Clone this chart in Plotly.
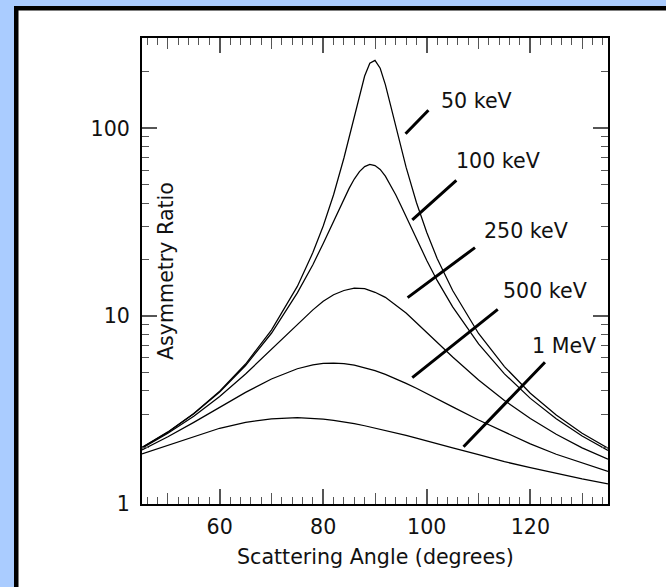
import plotly.graph_objects as go

# ---------------- data ----------------
angle_fine = [45, 50, 55, 60, 65, 70, 75, 78, 80, 82, 84, 85, 86, 87, 88, 89, 90,
              91, 92, 93, 94, 95, 96, 98, 100, 102, 105, 110, 115, 120, 125, 130, 135]
ratio_50keV = [2.00, 2.42, 3.03, 3.99, 5.56, 8.43, 14.4, 21.8, 30.2, 44.3, 69.5, 89.1, 116, 150, 190, 222, 230,
               209, 171, 133, 102, 79.0, 62.1, 40.3, 27.9, 20.3, 13.7, 8.09, 5.39, 3.89, 2.98, 2.38, 1.98]
ratio_100keV = [2.00, 2.41, 3.02, 3.95, 5.46, 8.11, 13.3, 18.8, 24.4, 32.1, 42.2, 47.9, 53.7, 58.8, 62.6, 64.2, 63.4,
                60.4, 55.7, 50.1, 44.3, 38.8, 33.8, 25.7, 19.8, 15.5, 11.2, 7.12, 4.93, 3.65, 2.84, 2.30, 1.93]

angle_coarse = [45, 50, 55, 60, 65, 70, 75, 78, 80, 82, 84, 86, 88, 90, 92, 94, 96, 98,
                100, 102, 105, 110, 115, 120, 125, 130, 135]
ratio_250keV = [1.98, 2.38, 2.93, 3.74, 4.92, 6.66, 9.10, 10.8, 12.0, 13.0, 13.7, 14.1, 14.0, 13.4, 12.6, 11.5, 10.4, 9.23,
                8.19, 7.25, 6.06, 4.57, 3.56, 2.85, 2.35, 1.99, 1.73]
ratio_500keV = [1.94, 2.28, 2.72, 3.27, 3.93, 4.63, 5.25, 5.50, 5.60, 5.63, 5.59, 5.49, 5.33, 5.13, 4.90, 4.65, 4.39, 4.13,
                3.88, 3.63, 3.29, 2.80, 2.41, 2.09, 1.84, 1.65, 1.49]
ratio_1MeV = [1.85, 2.05, 2.29, 2.53, 2.72, 2.84, 2.88, 2.86, 2.83, 2.79, 2.74, 2.68, 2.61, 2.54, 2.47, 2.40, 2.32, 2.24,
              2.17, 2.10, 1.99, 1.83, 1.68, 1.56, 1.45, 1.36, 1.28]

series = [
    (angle_fine, ratio_50keV),
    (angle_fine, ratio_100keV),
    (angle_coarse, ratio_250keV),
    (angle_coarse, ratio_500keV),
    (angle_coarse, ratio_1MeV),
]

# curve labels: text, text anchor (angle, log10 ratio), leader line (lower end, upper end)
label_text = ["50 keV", "100 keV", "250 keV", "500 keV", "1 MeV"]
label_x = [102.3, 105.2, 110.6, 114.4, 119.9]
label_logy = [2.143, 1.827, 1.451, 1.136, 0.843]
leader_x0 = [95.9, 97.2, 96.3, 97.2, 107.1]
leader_logy0 = [1.971, 1.513, 1.099, 0.673, 0.305]
leader_x1 = [100.6, 106.0, 109.6, 114.0, 123.1]
leader_logy1 = [2.104, 1.730, 1.371, 1.043, 0.763]

x_major = [60, 80, 100, 120]
x_medium = [50, 70, 90, 110, 130]
y_major = [1, 10, 100]
y_minor = [2, 3, 4, 5, 6, 7, 8, 9, 20, 30, 40, 50, 60, 70, 80, 90, 200]

# ---------------- layout constants ----------------
W, H = 666, 587
L, R, T, B = 142, 58, 38, 83
PW, PH = W - L - R, H - T - B
FONT = "DejaVu Sans"
FS = 20.6
TXT = "#111111"
TICKC = "#555555"
BLUE = "#aaccff"
XRANGE = [45, 135]
YRANGE = [0, 2.481]


def px2paper_x(px):
    return (px - L) / PW


def px2paper_y(py):
    return (H - B - py) / PH


def px_rect(x0, y0, x1, y1, color):
    return dict(type="rect", xref="paper", yref="paper",
                x0=px2paper_x(x0), x1=px2paper_x(x1),
                y0=px2paper_y(y1), y1=px2paper_y(y0),
                line=dict(width=0), fillcolor=color, layer="below")


fig = go.Figure()
for xs, ys in series:
    fig.add_trace(go.Scatter(x=xs, y=ys, mode="lines",
                             line=dict(color="black", width=1.25),
                             showlegend=False, hoverinfo="skip"))
# empty traces that activate the overlay axes carrying extra tick marks
for xa, ya in [("x2", "y"), ("x3", "y"), ("x4", "y"), ("x", "y2")]:
    fig.add_trace(go.Scatter(x=[None], y=[None], xaxis=xa, yaxis=ya,
                             showlegend=False, hoverinfo="skip"))

annotations = []
for t, x, ly in zip(label_text, label_x, label_logy):
    annotations.append(dict(x=x, y=ly, xref="x", yref="y", text=t, showarrow=False,
                            xanchor="left", yanchor="middle",
                            font=dict(family=FONT, size=FS, color=TXT)))
for x0, y0, x1, y1 in zip(leader_x0, leader_logy0, leader_x1, leader_logy1):
    annotations.append(dict(x=x0, y=y0, ax=x1, ay=y1, xref="x", yref="y", axref="x", ayref="y",
                            text="", showarrow=True, arrowhead=0, arrowwidth=3,
                            arrowcolor="black", standoff=0, startstandoff=0))
annotations.append(dict(x=px2paper_x(166), y=0.5, xref="paper", yref="paper",
                        text="Asymmetry Ratio", textangle=-90, showarrow=False,
                        xanchor="center", yanchor="middle",
                        font=dict(family=FONT, size=FS, color=TXT)))
annotations.append(dict(x=0.5, y=px2paper_y(557), xref="paper", yref="paper",
                        text="Scattering Angle (degrees)", showarrow=False,
                        xanchor="center", yanchor="middle",
                        font=dict(family=FONT, size=FS, color=TXT)))

# light-blue surround and black frame (only the left and top edges are visible)
frame_shapes = [
    px_rect(0, 0, 14, H, BLUE),
    px_rect(0, 0, W, 6, BLUE),
    px_rect(14, 6, 18.5, H, "black"),
    px_rect(14, 6, W, 10.5, "black"),
]

minor_x = dict(tickmode="linear", tick0=0, dtick=2, ticks="inside",
               ticklen=7, tickwidth=1, tickcolor=TICKC)
minor_y = dict(tickmode="array", tickvals=y_minor, ticks="inside",
               ticklen=7, tickwidth=1, tickcolor=TICKC)
common = dict(showgrid=False, zeroline=False)

fig.update_layout(
    width=W, height=H,
    margin=dict(l=L, r=R, t=T, b=B, pad=0),
    paper_bgcolor="white",
    plot_bgcolor="white",
    shapes=frame_shapes,
    annotations=annotations,
    font=dict(family=FONT, size=FS, color=TXT),
    xaxis=dict(range=XRANGE, tickmode="array", tickvals=x_major,
               ticktext=[str(v) for v in x_major],
               ticks="inside", ticklen=15, tickwidth=1.5, tickcolor=TICKC,
               minor=minor_x, ticklabelstandoff=3,
               showline=True, linecolor="black", linewidth=2, mirror=True,
               tickfont=dict(family=FONT, size=FS, color=TXT), **common),
    xaxis2=dict(range=XRANGE, overlaying="x", anchor="y", side="bottom",
                tickmode="array", tickvals=x_medium, showticklabels=False,
                ticks="inside", ticklen=11, tickwidth=1.2, tickcolor=TICKC,
                showline=False, **common),
    xaxis3=dict(range=XRANGE, overlaying="x", anchor="y", side="top",
                tickmode="array", tickvals=x_major, showticklabels=False,
                ticks="inside", ticklen=15, tickwidth=1.5, tickcolor=TICKC,
                minor=minor_x, showline=False, **common),
    xaxis4=dict(range=XRANGE, overlaying="x", anchor="y", side="top",
                tickmode="array", tickvals=x_medium, showticklabels=False,
                ticks="inside", ticklen=11, tickwidth=1.2, tickcolor=TICKC,
                showline=False, **common),
    yaxis=dict(type="log", range=YRANGE, tickmode="array", tickvals=y_major,
               ticktext=[str(v) for v in y_major],
               ticks="inside", ticklen=15, tickwidth=1.5, tickcolor=TICKC,
               minor=minor_y, ticklabelstandoff=6,
               showline=True, linecolor="black", linewidth=2, mirror=True,
               tickfont=dict(family=FONT, size=FS, color=TXT), **common),
    yaxis2=dict(type="log", range=YRANGE, overlaying="y", anchor="x", side="right",
                tickmode="array", tickvals=y_major, showticklabels=False,
                ticks="inside", ticklen=15, tickwidth=1.5, tickcolor=TICKC,
                minor=minor_y, showline=False, **common),
)

fig.write_html("out.html",
               post_script="document.body.style.margin='0px';"
                           "document.body.style.padding='0px';"
                           "document.body.style.overflow='hidden';"
                           "document.body.style.background='white';"
                           "var s=document.createElement('style');"
                           "s.textContent='.modebar-container{display:none !important;}';"
                           "document.head.appendChild(s);")
